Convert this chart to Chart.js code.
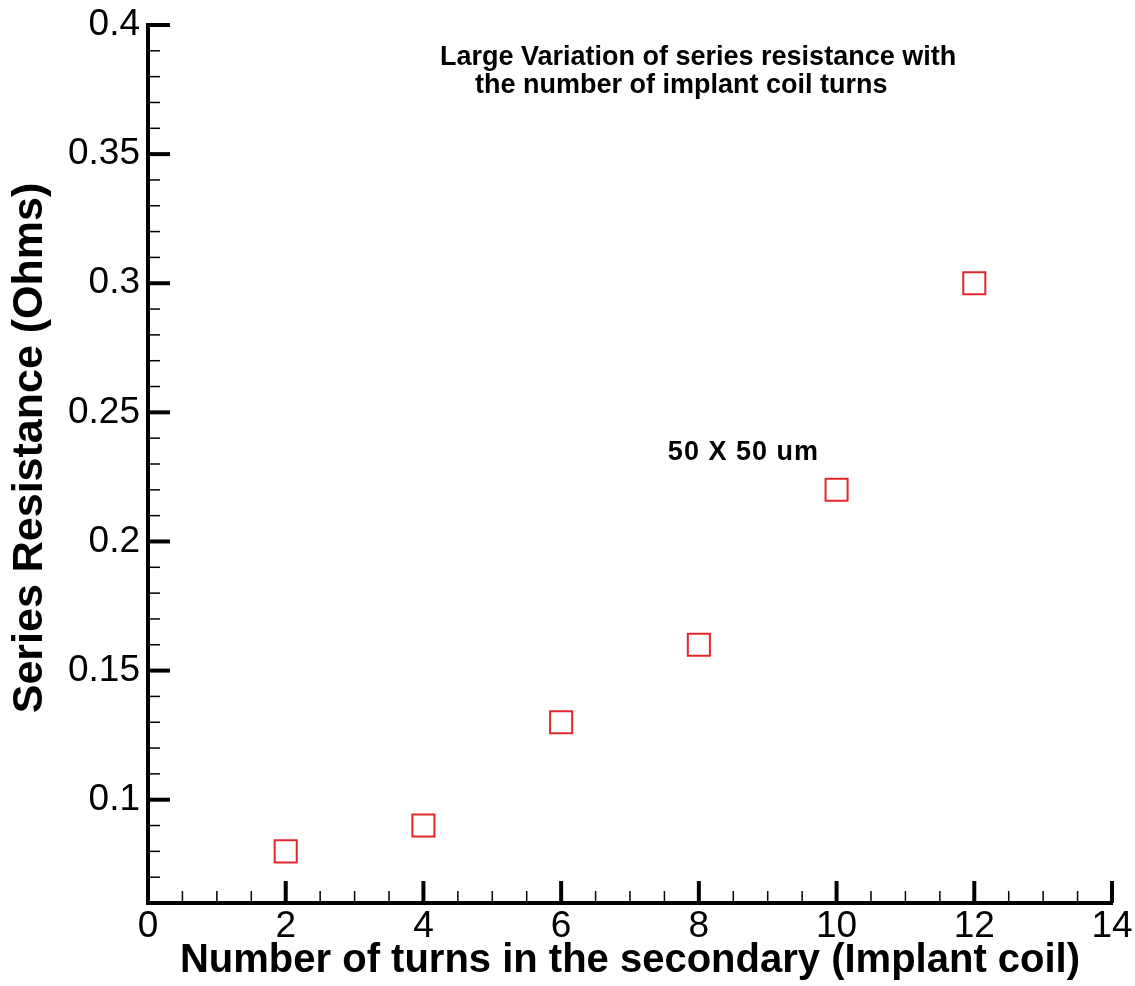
<!DOCTYPE html>
<html>
<head>
<meta charset="utf-8">
<title>Series resistance vs number of turns</title>
<script src="https://cdn.jsdelivr.net/npm/chart.js@4.4.1/dist/chart.umd.min.js"></script>
<style>
  html, body { margin: 0; padding: 0; background: #fff; }
  #wrap { width: 1135px; height: 986px; position: relative; }
</style>
</head>
<body>
<div id="wrap"><canvas id="resistanceChart"></canvas></div>
<script>
const turns = [2, 4, 6, 8, 10, 12];
const resistance = [0.08, 0.09, 0.13, 0.16, 0.22, 0.30];

const xTickValues = [0, 2, 4, 6, 8, 10, 12, 14];
const xTickLabels = ['0', '2', '4', '6', '8', '10', '12', '14'];
const yTickValues = [0.1, 0.15, 0.2, 0.25, 0.3, 0.35, 0.4];
const yTickLabels = ['0.1', '0.15', '0.2', '0.25', '0.3', '0.35', '0.4'];
const xMinorStep = 0.5;
const yMinorStep = 0.01;

const yTitle = 'Series Resistance (Ohms)';
const noteLines = [
    'Large Variation of series resistance with',
    'the number of implant coil turns',
    '50 X 50 um'
];

function isMajor(list, v) {
    return list.some(t => Math.abs(t - v) < 1e-6);
}

// tecplot-style ticks pointing into the plot
const inwardTicks = {
    id: 'inwardTicks',
    afterDatasetsDraw(chart) {
        const { ctx, chartArea } = chart;
        const xs = chart.scales.x;
        const ys = chart.scales.y;
        ctx.save();
        ctx.strokeStyle = '#000';

        const ny = Math.round((ys.max - ys.min) / yMinorStep);
        for (let i = 1; i <= ny; i++) {
            const v = ys.min + i * yMinorStep;
            const major = isMajor(yTickValues, v);
            const py = ys.getPixelForValue(v);
            ctx.lineWidth = major ? 4 : 1.5;
            ctx.beginPath();
            ctx.moveTo(chartArea.left, py);
            ctx.lineTo(chartArea.left + (major ? 22 : 12), py);
            ctx.stroke();
        }

        const nx = Math.round((xs.max - xs.min) / xMinorStep);
        for (let i = 1; i <= nx; i++) {
            const v = xs.min + i * xMinorStep;
            const major = isMajor(xTickValues, v);
            const px = xs.getPixelForValue(v);
            ctx.lineWidth = major ? 4 : 1.5;
            ctx.beginPath();
            ctx.moveTo(px, chartArea.bottom);
            ctx.lineTo(px, chartArea.bottom - (major ? 22 : 12));
            ctx.stroke();
        }
        ctx.restore();
    }
};

const notes = {
    id: 'notes',
    afterDraw(chart) {
        const { ctx } = chart;
        const xs = chart.scales.x;
        const ys = chart.scales.y;
        const spots = [[4.24, 0.3875], [4.75, 0.3766], [7.55, 0.2345]];
        ctx.save();
        ctx.fillStyle = '#000';
        ctx.font = 'bold 27px "Liberation Sans", Arial, sans-serif';
        ctx.textAlign = 'left';
        ctx.textBaseline = 'middle';
        noteLines.forEach((txt, i) => {
            ctx.letterSpacing = i === 2 ? '1px' : '0px';
            ctx.fillText(txt, xs.getPixelForValue(spots[i][0]), ys.getPixelForValue(spots[i][1]));
        });
        ctx.letterSpacing = '0px';

        // y axis title, rotated
        ctx.font = 'bold 43px "Liberation Sans", Arial, sans-serif';
        ctx.textAlign = 'center';
        ctx.translate(30, (chart.chartArea.top + chart.chartArea.bottom) / 2 - 16);
        ctx.rotate(-Math.PI / 2);
        ctx.fillText(yTitle, 0, 0);
        ctx.restore();
    }
};

new Chart(document.getElementById('resistanceChart').getContext('2d'), {
    type: 'scatter',
    data: {
        datasets: [{
            label: '50 X 50 um',
            data: turns.map((t, i) => ({ x: t, y: resistance[i] })),
            pointStyle: 'rect',
            pointRadius: 15.6,
            pointHoverRadius: 15.6,
            pointBorderColor: '#e3262b',
            pointBackgroundColor: 'rgba(0,0,0,0)',
            pointBorderWidth: 2,
            showLine: false
        }]
    },
    options: {
        responsive: true,
        maintainAspectRatio: false,
        animation: false,
        layout: { padding: { left: 0, top: 25, right: 23, bottom: 0 } },
        plugins: {
            legend: { display: false },
            tooltip: { enabled: false }
        },
        scales: {
            x: {
                type: 'linear',
                min: 0,
                max: 14,
                afterBuildTicks: s => { s.ticks = xTickValues.map(v => ({ value: v })); },
                afterFit: s => { s.height = 83; s.paddingLeft = 0; s.paddingRight = 0; },
                grid: { display: false, drawTicks: false },
                border: { display: true, color: '#000', width: 4 },
                ticks: {
                    autoSkip: false,
                    maxRotation: 0,
                    padding: 2,
                    color: '#000',
                    font: { family: 'Liberation Sans', size: 37 },
                    callback: v => xTickLabels[xTickValues.indexOf(v)]
                },
                title: {
                    display: true,
                    text: 'Number of turns in the secondary (Implant coil)',
                    color: '#000',
                    font: { family: 'Liberation Sans', size: 40, weight: 'bold' },
                    padding: { top: 0, bottom: 1 }
                }
            },
            y: {
                type: 'linear',
                min: 0.06,
                max: 0.4,
                afterBuildTicks: s => { s.ticks = yTickValues.map(v => ({ value: v })); },
                afterFit: s => { s.width = 148; s.paddingTop = 0; s.paddingBottom = 0; },
                grid: { display: false, drawTicks: false },
                border: { display: true, color: '#000', width: 4 },
                ticks: {
                    autoSkip: false,
                    padding: 8,
                    color: '#000',
                    font: { family: 'Liberation Sans', size: 37 },
                    callback: v => {
                        const k = yTickValues.findIndex(t => Math.abs(t - v) < 1e-6);
                        return k >= 0 ? yTickLabels[k] : '';
                    }
                },
                title: { display: false }
            }
        }
    },
    plugins: [inwardTicks, notes]
});
</script>
</body>
</html>
